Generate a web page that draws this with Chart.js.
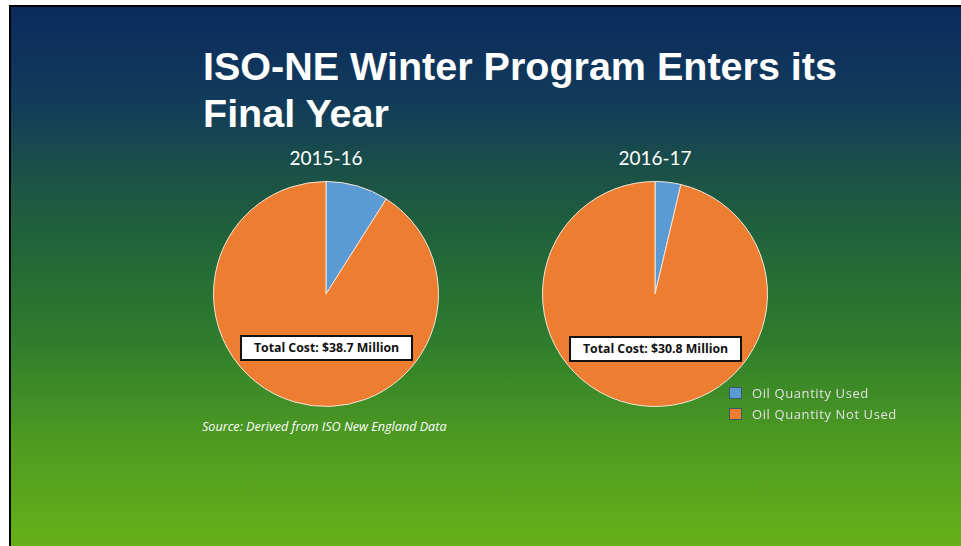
<!DOCTYPE html>
<html><head><meta charset="utf-8">
<script src="https://cdn.jsdelivr.net/npm/chart.js@4"></script>
<style>
html,body{margin:0;padding:0;width:961px;height:546px;overflow:hidden;background:#fff;}
#slide{position:absolute;left:9px;top:5px;width:952px;height:541px;border-left:2px solid #000;border-top:2px solid #000;
background:linear-gradient(to bottom,#0b2a5e 0%,#123c5a 18%,#1a5048 30%,#226638 45%,#2f7d2c 62%,#4d9a22 80%,#66b118 100%);}
.t{position:absolute;color:#fff;white-space:nowrap;}
#title{left:203px;top:43px;font-family:"Liberation Sans",Arial,sans-serif;font-weight:bold;font-size:39.5px;line-height:46.5px;}
.yr{font-family:Lato,"Open Sans",sans-serif;font-size:19px;transform:translateX(-50%);}
.box{position:absolute;background:#fff;border:2px solid #111;font-family:"Open Sans",Lato,sans-serif;font-weight:bold;font-size:12.3px;color:#111;text-align:center;line-height:21px;box-sizing:border-box;}
#src{left:202px;top:418px;font-family:"Open Sans",Lato,sans-serif;font-style:italic;font-size:12.6px;}
.lg{position:absolute;font-family:"Open Sans",Lato,sans-serif;font-size:13px;letter-spacing:0.6px;color:#e2e2e2;white-space:nowrap;}
.lg i{display:inline-block;width:11px;height:10px;margin-right:10px;vertical-align:-1px;border:1px solid #3a5a6a;}
canvas{position:absolute;}
</style></head>
<body>
<div id="slide"></div>
<div class="t" id="title">ISO-NE Winter Program Enters its<br>Final Year</div>
<div id="yr1" class="t yr" style="left:326px;top:146px;"></div>
<div id="yr2" class="t yr" style="left:655px;top:146px;"></div>
<div style="position:absolute;left:210px;top:178px;width:232px;height:232px;"><canvas id="c1" width="232" height="232"></canvas></div>
<div style="position:absolute;left:539px;top:178px;width:232px;height:232px;"><canvas id="c2" width="232" height="232"></canvas></div>
<div id="b1" class="box" style="left:240px;top:335px;width:173px;height:26px;"></div>
<div id="b2" class="box" style="left:569px;top:336px;width:173px;height:26px;"></div>
<div class="t" id="src">Source: Derived from ISO New England Data</div>
<div id="legend"></div>
<script>
const categories = ['Oil Quantity Used', 'Oil Quantity Not Used'];
const seasons = ['2015-16', '2016-17'];
const values2015 = [9, 91];
const values2016 = [3.7, 96.3];
const totalCosts = ['Total Cost: $38.7 Million', 'Total Cost: $30.8 Million'];
const colors = ['#5b9bd5', '#ed7d31'];

document.getElementById('yr1').textContent = seasons[0];
document.getElementById('yr2').textContent = seasons[1];
document.getElementById('b1').textContent = totalCosts[0];
document.getElementById('b2').textContent = totalCosts[1];

const lg = document.getElementById('legend');
categories.forEach((c, i) => {
  const d = document.createElement('div');
  d.className = 'lg';
  d.style.left = '729px';
  d.style.top = (384 + i * 21) + 'px';
  d.innerHTML = '<i style="background:' + colors[i] + '"></i>' + c;
  lg.appendChild(d);
});

function pie(id, vals) {
  new Chart(document.getElementById(id), {
    type: 'pie',
    data: { labels: categories, datasets: [{ data: vals, backgroundColor: colors, borderColor: '#f3e6d8', borderWidth: 1 }] },
    options: {
      responsive: false, animation: false, devicePixelRatio: 1,
      layout: { padding: 3 },
      plugins: { legend: { display: false }, tooltip: { enabled: false } }
    }
  });
}
pie('c1', values2015);
pie('c2', values2016);
</script>
</body></html>
